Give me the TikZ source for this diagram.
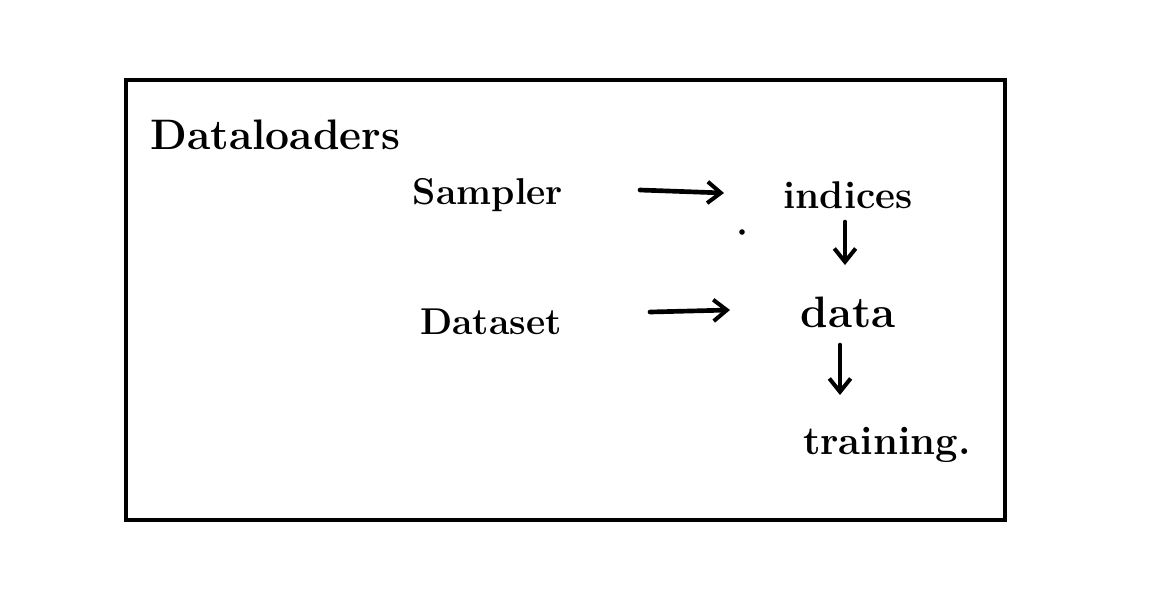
\documentclass[tikz,border=0pt]{standalone}
\usetikzlibrary{arrows.meta}
\begin{document}
\begin{tikzpicture}[x=0.75pt,y=-0.75pt,
  hand/.style={font=\fontsize{#1}{#1}\selectfont\bfseries, inner sep=0pt, anchor=center},
  flow/.style={line width=3.5pt, line cap=round, -{Straight Barb[length=10pt,width=16pt,line width=3pt]}}]
\useasboundingbox (0,0) rectangle (1165,612);
\draw[line width=3.5pt] (126,80) rectangle (1005,520);
\node[hand=32, anchor=west] (dl) at (150,135) {Dataloaders};
\node[hand=28] (sampler) at (488,195) {Sampler};
\node[hand=29] (indices) at (848,195) {indices};
\node[hand=28] (dataset) at (491,322) {Dataset};
\node[hand=33] (data) at (848,312) {data};
\node[hand=30] (training) at (887,445) {training.};
\coordinate (a1s) at (640,190); \coordinate (a1e) at (724,193);
\coordinate (a2s) at (650,312); \coordinate (a2e) at (730,310);
\draw[flow] (a1s) -- (a1e);
\draw[flow] (a2s) -- (a2e);
\fill (742,232) circle (2.8);
\draw[flow] (845,222) -- (845,265);
\draw[flow] (840,345) -- (840,395);
\end{tikzpicture}
\end{document}
